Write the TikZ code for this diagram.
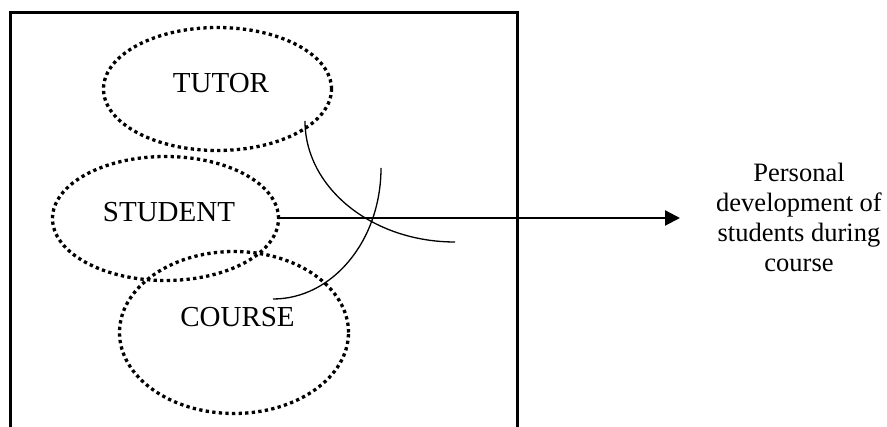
\documentclass[tikz,border=0pt]{standalone}
\usepackage{fontspec}
\setmainfont{Liberation Serif}
\usetikzlibrary{shapes.geometric,arrows.meta}
\begin{document}
\begin{tikzpicture}[x=1pt,y=-1pt,
  dotring/.style={draw, ellipse, line width=3.3pt, dash pattern=on 3.3pt off 3.3pt, inner sep=0pt},
  lbl/.style={inner sep=0pt, font=\fontsize{29}{33}\selectfont},
  frame/.style={line width=3pt},
  thinarc/.style={line width=1.3pt},
  mainarrow/.style={line width=2.2pt, -{Triangle[length=15pt,width=15pt]}},
  outtext/.style={inner sep=0pt, align=center, font=\fontsize{26.5}{30}\selectfont}]
\useasboundingbox (0,0) rectangle (887,427);
% frame open at bottom
\coordinate (fbl) at (10.5,430);
\coordinate (ftl) at (10.5,13);
\coordinate (ftr) at (517,13);
\coordinate (fbr) at (517,430);
\draw[frame] (fbl) -- (ftl) -- (ftr) -- (fbr);
% ellipses
\node[dotring, minimum width=228pt, minimum height=123pt] (tutorE) at (217.5,89) {};
\node[dotring, minimum width=226pt, minimum height=124pt] (studentE) at (165.5,218.5) {};
\node[dotring, minimum width=229pt, minimum height=162pt] (courseE) at (234,332.5) {};
% labels
\node[lbl] (tutor) at (221,83) {TUTOR};
\node[lbl] (student) at (169,212) {STUDENT};
\node[lbl] (course) at (237.5,317) {COURSE};
% arcs
\coordinate (arcAstart) at (305,121);
\coordinate (arcBstart) at (381,168);
\draw[thinarc] (arcAstart) arc[start angle=180, end angle=90, x radius=150, y radius=121] coordinate (arcAend);
\draw[thinarc] (arcBstart) arc[start angle=0, end angle=90, x radius=108, y radius=131] coordinate (arcBend);
% arrow
\coordinate (tip) at (680,218);
\draw[mainarrow] (studentE.east |- 0,218) -- (tip);
% output text
\node[outtext] (outcome) at (799,217) {Personal\\development of\\students during\\course};
\end{tikzpicture}
\end{document}
